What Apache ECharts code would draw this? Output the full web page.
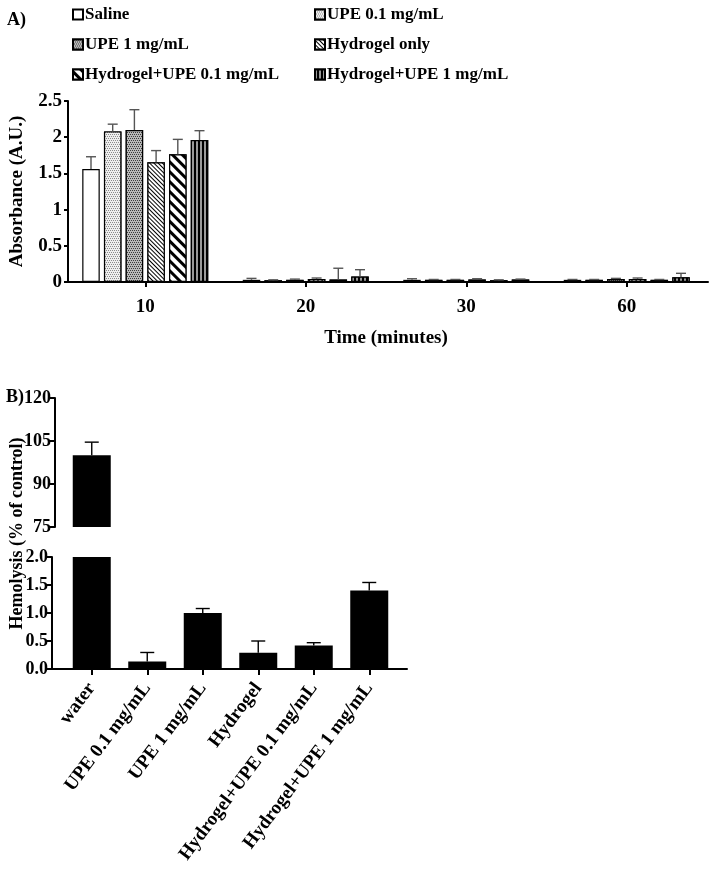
<!DOCTYPE html>
<html>
<head>
<meta charset="utf-8">
<script src="https://cdn.jsdelivr.net/npm/echarts@6/dist/echarts.min.js"></script>
<style>html,body{margin:0;padding:0;background:#fff;}#c{width:709px;height:870px;}</style>
</head>
<body>
<div id="c"></div>
<script>
// ---------- Data: panel A ----------
const timeCats = ['10', '20', '30', '60'];
const seriesNames = ['Saline', 'UPE 0.1 mg/mL', 'UPE 1 mg/mL', 'Hydrogel only', 'Hydrogel+UPE 0.1 mg/mL', 'Hydrogel+UPE 1 mg/mL'];
const salineVals = [1.56, 0.03, 0.03, 0.03];
const salineErr  = [0.17, 0.02, 0.015, 0.005];
const upe01Vals  = [2.08, 0.025, 0.03, 0.03];
const upe01Err   = [0.10, 0.005, 0.005, 0.005];
const upe1Vals   = [2.10, 0.03, 0.03, 0.04];
const upe1Err    = [0.28, 0.01, 0.005, 0.01];
const hydVals    = [1.655, 0.04, 0.035, 0.04];
const hydErr     = [0.16, 0.015, 0.01, 0.015];
const h01Vals    = [1.765, 0.035, 0.025, 0.03];
const h01Err     = [0.205, 0.155, 0.005, 0.005];
const h1Vals     = [1.96, 0.075, 0.035, 0.065];
const h1Err      = [0.13, 0.095, 0.005, 0.055];
const absTicks = [0, 0.5, 1, 1.5, 2, 2.5];

// ---------- Data: panel B ----------
const hemoCats = ['water', 'UPE 0.1 mg/mL', 'UPE 1 mg/mL', 'Hydrogel', 'Hydrogel+UPE 0.1 mg/mL', 'Hydrogel+UPE 1 mg/mL'];
const hemoVals = [100, 0.135, 1.0, 0.29, 0.42, 1.40];
const hemoErr  = [4.6, 0.16, 0.08, 0.21, 0.05, 0.145];
const hemoTopTicks = [75, 90, 105, 120];
const hemoBottomTicks = [0, 0.5, 1.0, 1.5, 2.0];

const valsA = [salineVals, upe01Vals, upe1Vals, hydVals, h01Vals, h1Vals];
const errsA = [salineErr, upe01Err, upe1Err, hydErr, h01Err, h1Err];

const FONT = "'Liberation Serif','Times New Roman',serif";
const decals = [
  null,
  {symbol: 'rect', symbolSize: 1, color: '#8a8a8a', backgroundColor: '#eeeeee', dashArrayX: [[1, 1], [0, 1, 1, 0]], dashArrayY: [1, 1]},
  {symbol: 'rect', symbolSize: 1, color: '#3a3a3a', backgroundColor: '#b8b8b8', dashArrayX: [[1, 1], [0, 1, 1, 0]], dashArrayY: [1, 1]},
  {symbol: 'rect', symbolSize: 1, color: '#000', backgroundColor: '#fff', dashArrayX: [1, 0], dashArrayY: [1, 1.6], rotation: Math.PI / 4},
  {symbol: 'rect', symbolSize: 1, color: '#000', backgroundColor: '#fff', dashArrayX: [1, 0], dashArrayY: [2.5, 3.5], rotation: Math.PI / 4},
  {symbol: 'rect', symbolSize: 1, color: '#000', backgroundColor: '#9a9a9a', dashArrayX: [1, 0], dashArrayY: [1.5, 2], rotation: Math.PI / 2}
];

const BAR_W = 17.5;
const GAP_PCT = 0.24;
const STEP = BAR_W * (1 + GAP_PCT);

function errRenderer(offset, capHalf, color) {
  return function (params, api) {
    const idx = api.value(0);
    const v = api.value(1);
    const e = api.value(2);
    const p0 = api.coord([idx, v]);
    const p1 = api.coord([idx, v + e]);
    const x = p0[0] + offset;
    return {
      type: 'group',
      children: [
        {type: 'line', shape: {x1: x, y1: p0[1], x2: x, y2: p1[1]}, style: {stroke: color, lineWidth: 1.4}},
        {type: 'line', shape: {x1: x - capHalf, y1: p1[1], x2: x + capHalf, y2: p1[1]}, style: {stroke: color, lineWidth: 1.4}}
      ]
    };
  };
}

const series = [];
seriesNames.forEach(function (name, i) {
  series.push({
    name: name, type: 'bar', xAxisIndex: 0, yAxisIndex: 0,
    barWidth: BAR_W, barGap: (GAP_PCT * 100) + '%',
    data: valsA[i],
    itemStyle: {color: '#ffffff', borderColor: '#000', borderWidth: 1.2, decal: decals[i] || undefined},
    emphasis: {disabled: true}, animation: false
  });
});
seriesNames.forEach(function (name, i) {
  series.push({
    type: 'custom', xAxisIndex: 0, yAxisIndex: 0, z: 5,
    renderItem: errRenderer((i - 2.5) * STEP, 5, '#555'),
    data: valsA[i].map(function (v, k) { return [k, v, errsA[i][k]]; }),
    animation: false, silent: true
  });
});

// Panel B
series.push({
  type: 'bar', xAxisIndex: 2, yAxisIndex: 2, barWidth: 38, clip: true,
  data: hemoVals.map(function (v, k) { return k === 0 ? v : '-'; }),
  itemStyle: {color: '#000'}, animation: false, silent: true
});
series.push({
  type: 'custom', xAxisIndex: 2, yAxisIndex: 2, z: 5,
  renderItem: errRenderer(0, 7, '#000'),
  data: hemoVals.map(function (v, k) { return [k, v, hemoErr[k]]; }).filter(function (d) { return d[1] >= 75; }),
  animation: false, silent: true
});
series.push({
  type: 'bar', xAxisIndex: 3, yAxisIndex: 3, barWidth: 38, clip: true,
  data: hemoVals,
  itemStyle: {color: '#000'}, animation: false, silent: true
});
series.push({
  type: 'custom', xAxisIndex: 3, yAxisIndex: 3, z: 5,
  renderItem: errRenderer(0, 7, '#000'),
  data: hemoVals.map(function (v, k) { return [k, v, hemoErr[k]]; }).filter(function (d) { return d[1] < 2; }),
  animation: false, silent: true
});

const labelStyle = {fontFamily: FONT, fontWeight: 'bold', color: '#000'};

const option = {
  backgroundColor: '#fff',
  animation: false,
  title: [
    {text: 'A)', left: 2, top: 6, textStyle: Object.assign({fontSize: 18}, labelStyle)},
    {text: 'B)', left: 1, top: 383, textStyle: Object.assign({fontSize: 18}, labelStyle)}
  ],
  legend: [
    {data: [seriesNames[0], seriesNames[2], seriesNames[4]], orient: 'vertical', left: 67, top: 1, itemWidth: 10, itemHeight: 10, itemGap: 13, icon: 'rect',
     textStyle: Object.assign({fontSize: 17, padding: [0, 0, 0, -3]}, labelStyle), selectedMode: false},
    {data: [seriesNames[1], seriesNames[3], seriesNames[5]], orient: 'vertical', left: 309, top: 1, itemWidth: 10, itemHeight: 10, itemGap: 13, icon: 'rect',
     textStyle: Object.assign({fontSize: 17, padding: [0, 0, 0, -3]}, labelStyle), selectedMode: false}
  ],
  grid: [
    {left: 65, top: 101, width: 642, height: 181},
    {left: 58, top: 101, width: 650, height: 181},
    {left: 64, top: 398, width: 333, height: 129},
    {left: 64, top: 557, width: 333, height: 112},
    {left: 52, top: 557, width: 355, height: 112},
    {left: 52, top: 398, width: 355, height: 271}
  ],
  xAxis: [
    {gridIndex: 0, type: 'category', data: timeCats, axisLine: {show: false},
     axisTick: {show: true, alignWithLabel: true, length: 5, lineStyle: {color: '#000', width: 2}},
     axisLabel: Object.assign({fontSize: 19, margin: 16}, labelStyle),
     name: 'Time (minutes)', nameLocation: 'middle', nameGap: 47,
     nameTextStyle: Object.assign({fontSize: 19}, labelStyle)},
    {gridIndex: 1, type: 'value', min: 0, max: 1, axisLine: {show: true, lineStyle: {color: '#000', width: 2}},
     axisTick: {show: false}, axisLabel: {show: false}, splitLine: {show: false}},
    {gridIndex: 2, type: 'category', data: hemoCats, show: false},
    {gridIndex: 3, type: 'category', data: hemoCats, axisLine: {show: false},
     axisTick: {show: true, alignWithLabel: true, length: 6, lineStyle: {color: '#000', width: 2}},
     axisLabel: Object.assign({fontSize: 19, rotate: 53, margin: 16, interval: 0}, labelStyle)},
    {gridIndex: 4, type: 'value', min: 0, max: 1, axisLine: {show: true, lineStyle: {color: '#000', width: 2}},
     axisTick: {show: false}, axisLabel: {show: false}, splitLine: {show: false}},
    {gridIndex: 5, type: 'value', min: 0, max: 1, show: false}
  ],
  yAxis: [
    {gridIndex: 0, type: 'value', min: absTicks[0], max: absTicks[absTicks.length - 1], interval: 0.5, show: false},
    {gridIndex: 1, type: 'value', min: absTicks[0], max: absTicks[absTicks.length - 1], interval: 0.5,
     axisLine: {show: true, lineStyle: {color: '#000', width: 2}},
     axisTick: {show: true, length: 4, lineStyle: {color: '#000', width: 2}},
     axisLabel: Object.assign({fontSize: 19, margin: 6}, labelStyle), splitLine: {show: false},
     name: 'Absorbance (A.U.)', nameLocation: 'middle', nameGap: 41,
     nameTextStyle: Object.assign({fontSize: 19}, labelStyle)},
    {gridIndex: 2, type: 'value', min: hemoTopTicks[0], max: hemoTopTicks[hemoTopTicks.length - 1], interval: 15, offset: 9,
     axisLine: {show: true, lineStyle: {color: '#000', width: 2}},
     axisTick: {show: true, length: 5, lineStyle: {color: '#000', width: 2}},
     axisLabel: Object.assign({fontSize: 18, margin: 4}, labelStyle), splitLine: {show: false}},
    {gridIndex: 3, type: 'value', min: hemoBottomTicks[0], max: hemoBottomTicks[hemoBottomTicks.length - 1], interval: 0.5, offset: 12,
     axisLine: {show: true, lineStyle: {color: '#000', width: 2}},
     axisTick: {show: true, length: 5, lineStyle: {color: '#000', width: 2}},
     axisLabel: Object.assign({fontSize: 18, margin: 4, formatter: function (v) { return v.toFixed(1); }}, labelStyle), splitLine: {show: false}},
    {gridIndex: 4, type: 'value', min: 0, max: 1, show: false},
    {gridIndex: 5, type: 'value', min: 0, max: 1,
     axisLine: {show: false}, axisTick: {show: false}, axisLabel: {show: false}, splitLine: {show: false},
     name: 'Hemolysis (% of control)', nameLocation: 'middle', nameGap: 41,
     nameTextStyle: Object.assign({fontSize: 18}, labelStyle)}
  ],
  series: series
};

const chart = echarts.init(document.getElementById('c'), null, {renderer: 'canvas'});
chart.setOption(option);
</script>
</body>
</html>
